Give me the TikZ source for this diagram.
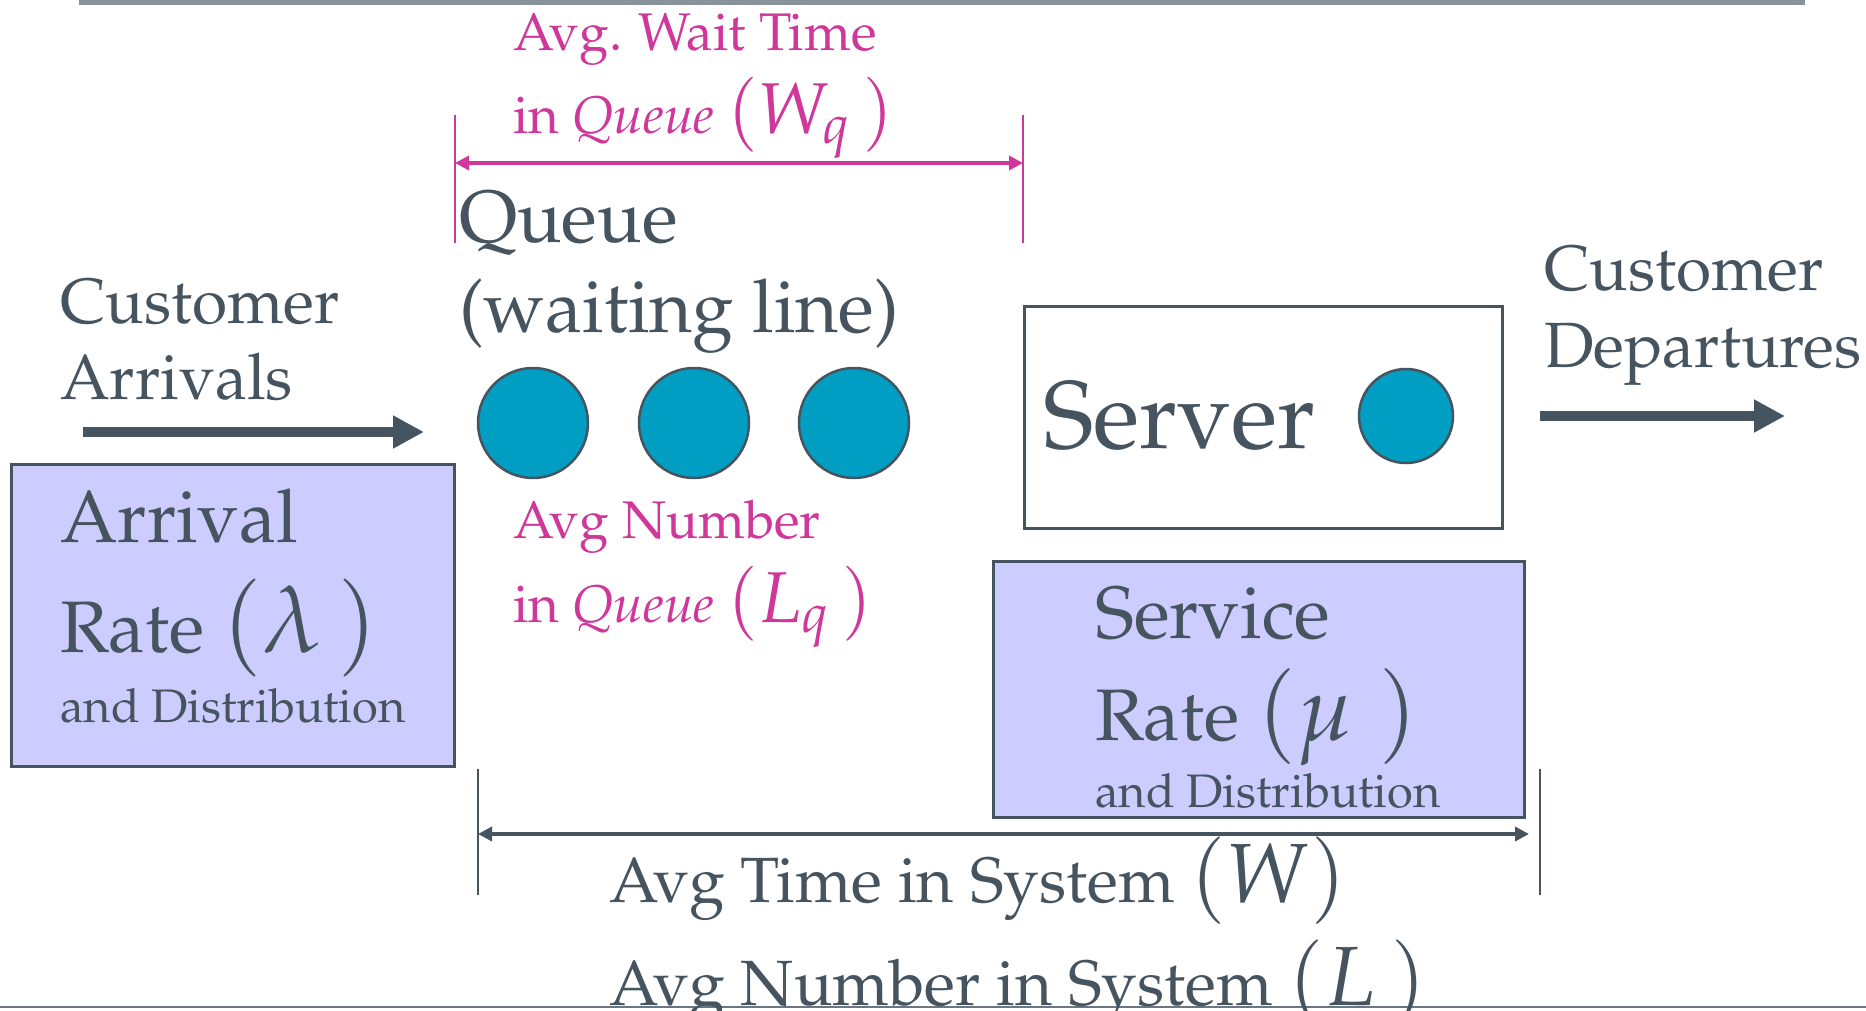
\documentclass[tikz,border=0pt]{standalone}
\usepackage[T1]{fontenc}
\usepackage{mathpazo}
\usepackage{xcolor}
\usepackage{tikz}
\usetikzlibrary{positioning,arrows.meta}
\definecolor{slate}{RGB}{70,84,96}
\definecolor{qpink}{RGB}{207,55,155}
\definecolor{custc}{RGB}{0,158,194}
\definecolor{lav}{RGB}{204,204,255}
\definecolor{barc}{RGB}{135,146,154}
\newcommand{\fsz}[2]{\fontsize{#1}{#2}\selectfont}
\newcommand{\eqpart}[2]{{\fsz{#1}{#1}$#2$}}

\begin{document}
\begin{tikzpicture}[x=1pt,y=-1pt,
    txt/.style={anchor=base west,inner sep=0pt,text=slate,align=left},
    stat/.style={txt,text=qpink},
    ratebox/.style={draw=slate,line width=2.5pt,fill=lav,anchor=north west,inner sep=0pt},
    srvbox/.style={ratebox,fill=white},
    cust/.style={circle,draw=slate,line width=2.5pt,fill=custc,inner sep=0pt,minimum size=110pt},
    flow/.style={draw=slate,line width=10pt,-{Triangle[length=31pt,width=31pt]}},
    dimline/.style={line width=4pt,{Triangle[length=14pt,width=14pt]}-{Triangle[length=14pt,width=14pt]}},
    dimtick/.style={line width=1.5pt}
  ]
    \useasboundingbox (0,0) rectangle (1866,1010);
    \fill[barc] (79,0) rectangle (1805,5);
    \draw[slate!80,line width=2pt] (0,1007) -- (1866,1007);

    % boxes
    \node[ratebox,minimum width=443pt,minimum height=302pt] (arrbox) at (10,463) {};
    \node[srvbox,minimum width=478pt,minimum height=222pt] (srvbox) at (1023,305) {};
    \node[ratebox,minimum width=531pt,minimum height=256pt] (svcbox) at (992,560) {};

    % customers
    \foreach \i/\x in {1/533,2/694,3/854}
      \node[cust] (q\i) at (\x,423) {};
    \node[cust,minimum size=94pt] (s1) at (1406,416) {};

    % labels (base = last line)
    \node[txt,font=\fsz{64}{76}] (arrlbl) at (60,399) {Customer\\Arrivals};
    \node[txt,font=\fsz{64}{77}] (deplbl) at (1544,367) {Customer\\Departures};
    \node[txt,font=\fsz{74}{90}] (qlbl) at (459,332) {Queue\\(waiting line)};
    \node[txt,font=\fsz{96}{96}] (srvlbl) at (1043,448) {Server};
    \node[stat,font=\fsz{53}{83}] (wqlbl) at (513,133) {Avg. Wait Time\\in \textit{Queue} \eqpart{72}{(W_q\,)}};
    \node[stat,font=\fsz{53}{84}] (lqlbl) at (513,622) {Avg Number\\in \textit{Queue} \eqpart{72}{(L_q\,)}};

    \node[txt,font=\fsz{74}{74}] (arr1) at (60,542) {Arrival};
    \node[txt,font=\fsz{73}{73}] (arr2) at (60,652) {Rate \eqpart{94}{(\lambda\,)}};
    \node[txt,font=\fsz{47}{47}] (arr3) at (60,722) {and Distribution};
    \node[txt,font=\fsz{74}{74}] (svc1) at (1095,638) {Service};
    \node[txt,font=\fsz{73}{73}] (svc2) at (1095,740) {Rate \eqpart{92}{(\mu\;)}};
    \node[txt,font=\fsz{47}{47}] (svc3) at (1095,807) {and Distribution};
    \node[txt,font=\fsz{64}{103}] (syslbl) at (609,1005) {Avg Time in System \eqpart{84}{(W)}\\Avg Number in System \eqpart{84}{(L\,)}};

    % flow arrows
    \coordinate (inA) at (83,432);
    \coordinate (inB) at (424,432);
    \coordinate (outA) at (1540,416);
    \coordinate (outB) at (1785,416);
    \draw[flow] (inA) -- (inB);
    \draw[flow] (outA) -- (outB);

    % wait in queue
    \coordinate (wqL) at (455,163);
    \coordinate (wqR) at (1023,163);
    \draw[qpink,dimtick] (455,115) -- (455,243);
    \draw[qpink,dimtick] (1023,115) -- (1023,243);
    \draw[qpink,dimline] (wqL) -- (wqR);

    % time in system
    \coordinate (wL) at (478,834);
    \coordinate (wR) at (1529,834);
    \draw[slate,dimtick] (478,769) -- (478,895);
    \draw[slate,dimtick] (1540,769) -- (1540,895);
    \draw[slate,dimline] (wL) -- (wR);
\end{tikzpicture}
\end{document}
